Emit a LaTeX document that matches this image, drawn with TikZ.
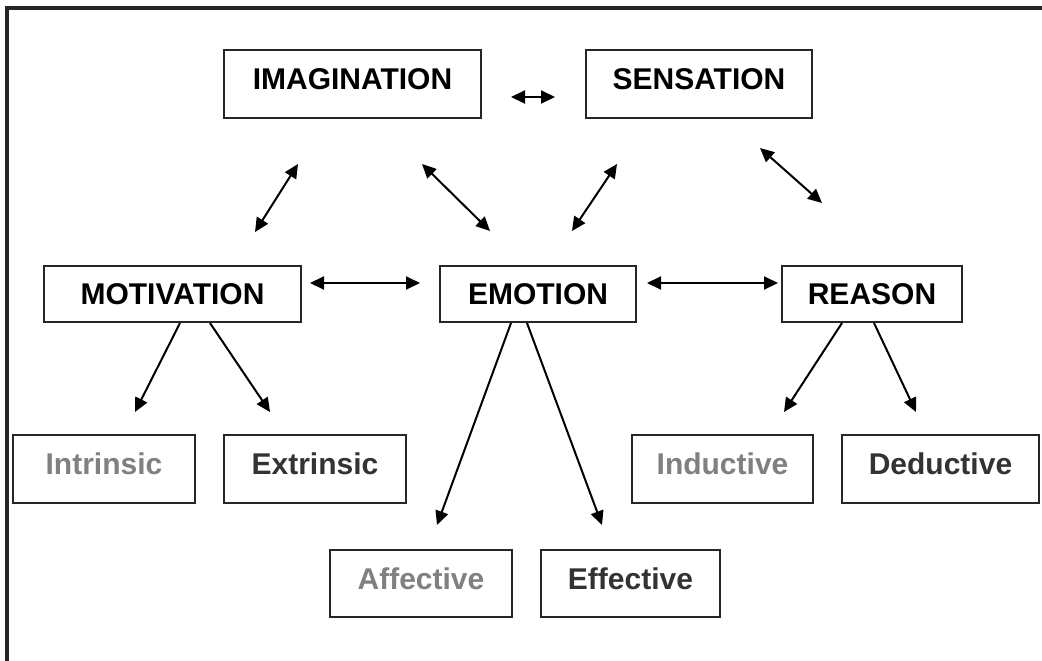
\documentclass[tikz,border=0pt]{standalone}
\usepackage{fontspec}
\setmainfont{Liberation Sans}
\usetikzlibrary{arrows.meta}
\begin{document}
\begin{tikzpicture}[x=1pt,y=-1pt,
  box/.style={draw=black!85, line width=2.2pt, inner sep=0pt, font=\fontsize{30}{35}\selectfont\bfseries},
  hibox/.style={box, text height=21pt, text depth=10pt},
  midbox/.style={box, text height=21pt, text depth=0pt},
  lite/.style={text=black!50},
  dark/.style={text=black!80},
  link/.style={line width=2pt, {Triangle[length=14pt,width=13pt]}-{Triangle[length=14pt,width=13pt]}},
  down/.style={line width=2pt, -{Triangle[length=14pt,width=13pt]}}
]
\useasboundingbox (0,0) rectangle (1042,661);
\fill[white] (0,0) rectangle (1042,661);
% frame
\draw[line width=3.2pt, black!85] (7,661) -- (7,8) -- (1042,8);

% top row
\node[hibox, minimum width=257pt, minimum height=68pt] (img) at (352.5,84) {IMAGINATION};
\node[hibox, minimum width=226pt, minimum height=68pt] (sen) at (699,84) {SENSATION};
% middle row
\node[midbox, minimum width=257pt, minimum height=56pt] (mot) at (172.5,294) {MOTIVATION};
\node[midbox, minimum width=196pt, minimum height=56pt] (emo) at (538,294) {EMOTION};
\node[midbox, minimum width=180pt, minimum height=56pt] (rea) at (872,294) {REASON};
% lower rows
\node[hibox, lite, minimum width=182pt, minimum height=68pt] (intr) at (104,469) {Intrinsic};
\node[hibox, dark, minimum width=182pt, minimum height=68pt] (extr) at (315,469) {Extrinsic};
\node[hibox, lite, minimum width=181pt, minimum height=68pt] (indu) at (722.5,469) {Inductive};
\node[hibox, dark, minimum width=197pt, minimum height=68pt] (dedu) at (940.5,469) {Deductive};
\node[hibox, lite, minimum width=182pt, minimum height=67pt] (affe) at (421,583.5) {Affective};
\node[hibox, dark, minimum width=179pt, minimum height=67pt] (effe) at (630.5,583.5) {Effective};

% connector end points
\coordinate (is1) at (511,97);   \coordinate (is2) at (555,97);
\coordinate (im1) at (298,164);  \coordinate (im2) at (255,232);
\coordinate (ie1) at (422,164);  \coordinate (ie2) at (490,231);
\coordinate (se1) at (617,164);  \coordinate (se2) at (572,231);
\coordinate (sr1) at (760,148);  \coordinate (sr2) at (822,203);
\coordinate (me1) at (310,283);  \coordinate (me2) at (420,283);
\coordinate (er1) at (647,283);  \coordinate (er2) at (778,283);
\coordinate (mi1) at (180,323);  \coordinate (mi2) at (135,412);
\coordinate (mx1) at (210,323);  \coordinate (mx2) at (270,412);
\coordinate (ea1) at (511,323);  \coordinate (ea2) at (437,525);
\coordinate (ef1) at (527,323);  \coordinate (ef2) at (602,525);
\coordinate (ri1) at (842,323);  \coordinate (ri2) at (784,412);
\coordinate (rd1) at (874,323);  \coordinate (rd2) at (916,412);

\draw[link] (is1) -- (is2);
\draw[link] (im1) -- (im2);
\draw[link] (ie1) -- (ie2);
\draw[link] (se1) -- (se2);
\draw[link] (sr1) -- (sr2);
\draw[link] (me1) -- (me2);
\draw[link] (er1) -- (er2);
\draw[down] (mi1) -- (mi2);
\draw[down] (mx1) -- (mx2);
\draw[down] (ea1) -- (ea2);
\draw[down] (ef1) -- (ef2);
\draw[down] (ri1) -- (ri2);
\draw[down] (rd1) -- (rd2);
\end{tikzpicture}
\end{document}
